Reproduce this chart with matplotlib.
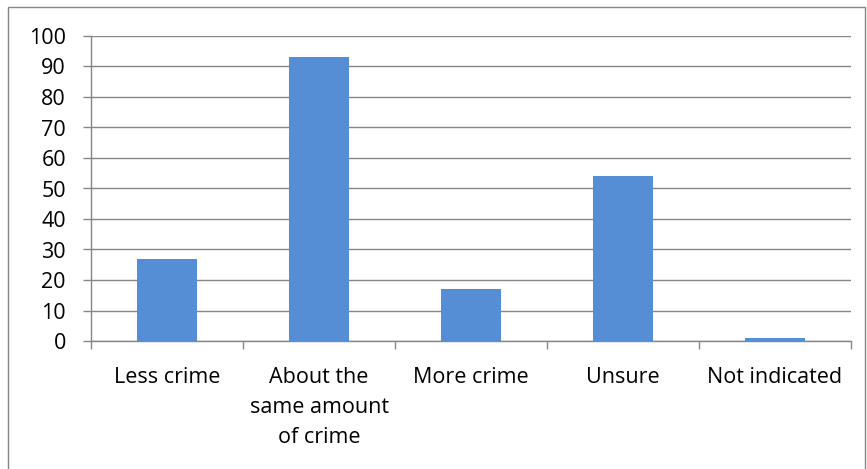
import matplotlib.pyplot as plt
from matplotlib.patches import Rectangle

categories = ["Less crime", "About the\nsame amount\nof crime", "More crime", "Unsure", "Not indicated"]
values = [27, 93, 17, 54, 1]

plt.rcParams['font.family'] = ['Open Sans', 'DejaVu Sans']

fig = plt.figure(figsize=(8.67, 4.69), dpi=100)
ax = fig.add_axes([91 / 867, 1 - 341 / 469, 760 / 867, 305 / 469])

# outer chart border
fig.patches.append(Rectangle((8 / 867, -0.01), 857 / 867, 1 - 7 / 469 + 0.01,
                             transform=fig.transFigure, fill=False,
                             edgecolor="#868686", linewidth=1.0))

gray = "#868686"
x = list(range(len(categories)))
ax.bar(x, values, width=0.4, color="#558ED5", zorder=3)

ax.set_xlim(-0.5, len(categories) - 0.5)
ax.set_ylim(0, 100)
ax.set_yticks(range(0, 101, 10))
ax.yaxis.grid(True, color=gray, linewidth=1.0, zorder=0)

# category labels centred, ticks between categories
ax.set_xticks(x)
ax.set_xticklabels(categories, fontsize=15.5, linespacing=1.55, va="top")
ax.set_xticks([i - 0.5 for i in range(len(categories) + 1)], minor=True)
ax.tick_params(axis="x", which="major", length=0, pad=19)
ax.tick_params(axis="x", which="minor", length=6, color=gray, width=1.0)
ax.tick_params(axis="y", length=6, color=gray, width=1.0, labelsize=15.5, pad=12)

for side in ["top", "right"]:
    ax.spines[side].set_visible(False)
for side in ["left", "bottom"]:
    ax.spines[side].set_color(gray)
    ax.spines[side].set_linewidth(1.0)

plt.savefig("out.png", dpi=100)
